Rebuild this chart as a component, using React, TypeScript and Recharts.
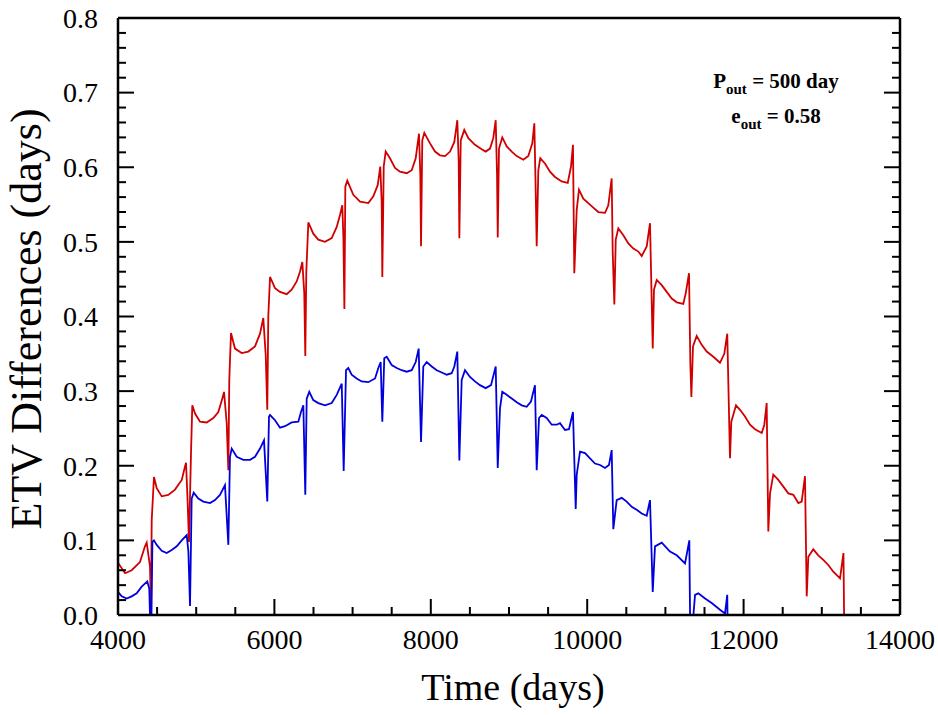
import React from "react";
import { LineChart, Line, XAxis, YAxis } from "recharts";

// tick values
const xMajorTicks = [4000, 6000, 8000, 10000, 12000, 14000];
const xMinorTicks = [4500, 5000, 5500, 6500, 7000, 7500, 8500, 9000, 9500, 10500, 11000, 11500, 12500, 13000, 13500];
const yMajorTicks = [0, 0.1, 0.2, 0.3, 0.4, 0.5, 0.6, 0.7, 0.8];
const yMinorTicks = [
  0.02, 0.04, 0.06, 0.08, 0.12, 0.14, 0.16, 0.18, 0.22, 0.24, 0.26, 0.28, 0.32, 0.34, 0.36, 0.38,
  0.42, 0.44, 0.46, 0.48, 0.52, 0.54, 0.56, 0.58, 0.62, 0.64, 0.66, 0.68, 0.72, 0.74, 0.76, 0.78,
];

// [time (days), ETV difference (days)]
const redSeries: [number, number][] = [
  [4000, 0.070], [4090, 0.056], [4175, 0.060], [4281, 0.071], [4345, 0.092], [4367, 0.097], [4409, 0.065], [4422, 0.007],
  [4431, 0.127], [4460, 0.185], [4495, 0.170], [4559, 0.159], [4643, 0.161], [4729, 0.168], [4815, 0.181], [4857, 0.199], [4870, 0.204], [4891, 0.150], [4908, 0.098],
  [4934, 0.219], [4950, 0.281], [4985, 0.270], [5049, 0.259], [5134, 0.258], [5219, 0.264], [5283, 0.272], [5334, 0.290], [5356, 0.299], [5390, 0.257], [5411, 0.194],
  [5423, 0.315], [5445, 0.378], [5496, 0.357], [5582, 0.351], [5666, 0.353], [5752, 0.360], [5816, 0.377], [5858, 0.398], [5889, 0.348], [5909, 0.275],
  [5922, 0.400], [5944, 0.453], [6008, 0.438], [6072, 0.433], [6157, 0.430], [6221, 0.436], [6285, 0.447], [6327, 0.460], [6357, 0.473], [6382, 0.431], [6395, 0.347],
  [6408, 0.460], [6434, 0.526], [6497, 0.511], [6561, 0.503], [6647, 0.500], [6733, 0.505], [6797, 0.520], [6839, 0.536], [6868, 0.549], [6882, 0.507], [6895, 0.410],
  [6907, 0.574], [6932, 0.582], [7009, 0.563], [7095, 0.554], [7201, 0.552], [7265, 0.561], [7321, 0.576], [7354, 0.601], [7372, 0.552], [7380, 0.453],
  [7398, 0.601], [7423, 0.621], [7478, 0.612], [7542, 0.599], [7606, 0.594], [7692, 0.592], [7756, 0.596], [7807, 0.612], [7849, 0.645], [7866, 0.590], [7875, 0.494],
  [7891, 0.636], [7917, 0.646], [7990, 0.632], [8054, 0.621], [8118, 0.616], [8182, 0.615], [8246, 0.621], [8301, 0.634], [8339, 0.663], [8357, 0.607], [8365, 0.505],
  [8383, 0.636], [8428, 0.650], [8480, 0.639], [8565, 0.630], [8651, 0.624], [8702, 0.621], [8757, 0.625], [8799, 0.639], [8830, 0.663], [8847, 0.590], [8856, 0.506],
  [8872, 0.625], [8914, 0.640], [8971, 0.628], [9035, 0.621], [9099, 0.615], [9183, 0.610], [9247, 0.615], [9298, 0.632], [9324, 0.659], [9342, 0.565], [9354, 0.494],
  [9375, 0.596], [9400, 0.612], [9460, 0.605], [9524, 0.594], [9588, 0.587], [9674, 0.581], [9751, 0.579], [9793, 0.601], [9818, 0.630], [9835, 0.458],
  [9866, 0.543], [9895, 0.570], [9950, 0.558], [10014, 0.552], [10078, 0.546], [10142, 0.540], [10228, 0.539], [10270, 0.549], [10313, 0.585], [10326, 0.487], [10347, 0.416],
  [10365, 0.503], [10398, 0.518], [10462, 0.509], [10526, 0.498], [10590, 0.491], [10654, 0.487], [10697, 0.481], [10761, 0.494], [10803, 0.525], [10825, 0.420], [10838, 0.357],
  [10854, 0.436], [10889, 0.449], [10953, 0.442], [11017, 0.433], [11081, 0.424], [11145, 0.419], [11229, 0.417], [11260, 0.431], [11302, 0.458], [11319, 0.337], [11332, 0.292],
  [11353, 0.360], [11400, 0.374], [11464, 0.362], [11528, 0.353], [11613, 0.346], [11698, 0.338], [11753, 0.350], [11791, 0.377], [11826, 0.210],
  [11843, 0.259], [11903, 0.281], [11954, 0.275], [12018, 0.266], [12082, 0.255], [12146, 0.249], [12232, 0.244], [12265, 0.255], [12295, 0.284], [12316, 0.112],
  [12338, 0.163], [12380, 0.188], [12444, 0.181], [12508, 0.172], [12572, 0.163], [12636, 0.161], [12700, 0.150], [12743, 0.152], [12785, 0.186], [12807, 0.025],
  [12828, 0.078], [12891, 0.088], [12955, 0.080], [13019, 0.074], [13083, 0.067], [13147, 0.058], [13233, 0.049], [13277, 0.083], [13290, -0.05],
];

const blueSeries: [number, number][] = [
  [4000, 0.031], [4047, 0.025], [4111, 0.022], [4175, 0.025], [4239, 0.029], [4303, 0.038], [4375, 0.045], [4400, 0.035], [4422, -0.05],
  [4440, 0.098], [4460, 0.100], [4495, 0.094], [4559, 0.086], [4623, 0.083], [4687, 0.087], [4751, 0.092], [4815, 0.100], [4879, 0.107], [4900, 0.085], [4921, 0.012],
  [4942, 0.156], [4968, 0.164], [5027, 0.156], [5091, 0.152], [5177, 0.150], [5240, 0.154], [5304, 0.161], [5368, 0.174], [5411, 0.094],
  [5432, 0.212], [5454, 0.223], [5518, 0.212], [5602, 0.208], [5688, 0.208], [5752, 0.212], [5816, 0.223], [5867, 0.234], [5909, 0.152],
  [5931, 0.266], [5944, 0.268], [6008, 0.261], [6072, 0.251], [6136, 0.253], [6221, 0.258], [6306, 0.259], [6340, 0.272], [6370, 0.281], [6395, 0.161],
  [6413, 0.290], [6446, 0.299], [6497, 0.288], [6561, 0.284], [6647, 0.281], [6733, 0.284], [6797, 0.295], [6861, 0.310], [6886, 0.193],
  [6916, 0.328], [6945, 0.331], [6988, 0.322], [7052, 0.317], [7116, 0.313], [7201, 0.312], [7287, 0.317], [7329, 0.331], [7359, 0.339], [7380, 0.259],
  [7405, 0.344], [7436, 0.346], [7500, 0.335], [7564, 0.331], [7628, 0.328], [7692, 0.326], [7756, 0.328], [7807, 0.339], [7845, 0.357], [7875, 0.232],
  [7904, 0.333], [7948, 0.339], [8012, 0.333], [8076, 0.328], [8140, 0.325], [8204, 0.322], [8267, 0.324], [8301, 0.333], [8339, 0.353], [8365, 0.207],
  [8395, 0.315], [8437, 0.328], [8501, 0.319], [8565, 0.313], [8629, 0.308], [8702, 0.304], [8770, 0.308], [8830, 0.333], [8856, 0.197],
  [8885, 0.277], [8914, 0.299], [8971, 0.295], [9035, 0.290], [9099, 0.285], [9163, 0.281], [9226, 0.279], [9281, 0.286], [9332, 0.308], [9354, 0.194],
  [9384, 0.264], [9418, 0.268], [9482, 0.264], [9546, 0.255], [9610, 0.255], [9652, 0.257], [9716, 0.248], [9767, 0.249], [9818, 0.272], [9853, 0.142],
  [9866, 0.188], [9908, 0.219], [9972, 0.217], [10036, 0.210], [10100, 0.203], [10164, 0.201], [10228, 0.197], [10279, 0.201], [10313, 0.221], [10334, 0.115],
  [10377, 0.154], [10441, 0.157], [10505, 0.152], [10569, 0.145], [10633, 0.141], [10697, 0.136], [10761, 0.133], [10803, 0.154], [10838, 0.031],
  [10867, 0.092], [10953, 0.097], [11059, 0.085], [11145, 0.080], [11251, 0.069], [11306, 0.100], [11320, -0.05],
  [11379, 0.027], [11421, 0.029], [11507, 0.022], [11592, 0.016], [11698, 0.007], [11762, 0.002], [11791, 0.027], [11800, -0.05],
];

const redData = redSeries.map(([t, v]) => ({ t, v }));
const blueData = blueSeries.map(([t, v]) => ({ t, v }));

const xTicks = [...xMajorTicks, ...xMinorTicks].sort((a, b) => a - b);
const yTicks = [...yMajorTicks, ...yMinorTicks].sort((a, b) => a - b);

const FONT = '"Liberation Serif", "Times New Roman", Times, serif';
const MAJOR = 16;
const MINOR = 8;

const isMajor = (list: number[], v: number) => list.some((m) => Math.abs(m - v) < 1e-9);

function LeftTick(props: any) {
  const { x, y, payload } = props;
  const major = isMajor(yMajorTicks, payload.value);
  return (
    <g>
      <line x1={x} x2={x + (major ? MAJOR : MINOR)} y1={y} y2={y} stroke="#000" strokeWidth={2} />
      {major && (
        <text
          x={x - 20}
          y={y}
          dy="0.35em"
          textAnchor="end"
          fill="#000"
          style={{ fontFamily: FONT, fontSize: 28 }}
        >
          {payload.value.toFixed(1)}
        </text>
      )}
    </g>
  );
}

function RightTick(props: any) {
  const { x, y, payload } = props;
  const major = isMajor(yMajorTicks, payload.value);
  return <line x1={x} x2={x - (major ? MAJOR : MINOR)} y1={y} y2={y} stroke="#000" strokeWidth={2} />;
}

function BottomTick(props: any) {
  const { x, y, payload } = props;
  const major = isMajor(xMajorTicks, payload.value);
  return (
    <g>
      <line x1={x} x2={x} y1={y} y2={y - (major ? MAJOR : MINOR)} stroke="#000" strokeWidth={2} />
      {major && (
        <text x={x} y={y + 34} textAnchor="middle" fill="#000" style={{ fontFamily: FONT, fontSize: 28 }}>
          {String(payload.value)}
        </text>
      )}
    </g>
  );
}

function TopTick(props: any) {
  const { x, y, payload } = props;
  const major = isMajor(xMajorTicks, payload.value);
  return <line x1={x} x2={x} y1={y} y2={y + (major ? MAJOR : MINOR)} stroke="#000" strokeWidth={2} />;
}

const frame = { stroke: "#000", strokeWidth: 2.5 };

export default function App() {
  return (
    <div style={{ position: "absolute", left: 0, top: 0, width: 938, height: 715, background: "#fff" }}>
      <LineChart width={938} height={715} margin={{ top: 16, right: 36, bottom: 40, left: 28 }}>
        <XAxis
          xAxisId="bottom"
          type="number"
          dataKey="t"
          domain={[4000, 14000]}
          allowDataOverflow
          ticks={xTicks}
          interval={0}
          tick={BottomTick}
          tickLine={false}
          tickSize={0}
          tickMargin={0}
          axisLine={frame}
          height={60}
        />
        <XAxis
          xAxisId="top"
          orientation="top"
          type="number"
          domain={[4000, 14000]}
          allowDataOverflow
          ticks={xTicks}
          interval={0}
          tick={TopTick}
          tickLine={false}
          tickSize={0}
          tickMargin={0}
          axisLine={frame}
          height={2}
        />
        <YAxis
          yAxisId="left"
          type="number"
          domain={[0, 0.8]}
          allowDataOverflow
          ticks={yTicks}
          interval={0}
          tick={LeftTick}
          tickLine={false}
          tickSize={0}
          tickMargin={0}
          axisLine={frame}
          width={90}
        />
        <YAxis
          yAxisId="right"
          orientation="right"
          type="number"
          domain={[0, 0.8]}
          allowDataOverflow
          ticks={yTicks}
          interval={0}
          tick={RightTick}
          tickLine={false}
          tickSize={0}
          tickMargin={0}
          axisLine={frame}
          width={2}
        />
        <Line
          xAxisId="bottom"
          yAxisId="left"
          data={redData}
          dataKey="v"
          type="linear"
          stroke="#d00000"
          strokeWidth={1.8}
          dot={false}
          isAnimationActive={false}
        />
        <Line
          xAxisId="bottom"
          yAxisId="left"
          data={blueData}
          dataKey="v"
          type="linear"
          stroke="#0000dd"
          strokeWidth={1.8}
          dot={false}
          isAnimationActive={false}
        />
      </LineChart>
      <svg
        width={938}
        height={715}
        style={{ position: "absolute", left: 0, top: 0, pointerEvents: "none", fontFamily: FONT }}
      >
        <text transform="translate(41,319) rotate(-90)" textAnchor="middle" fontSize={44} fill="#000">
          ETV Differences (days)
        </text>
        <text x={513} y={700} textAnchor="middle" fontSize={38} fill="#000">
          Time (days)
        </text>
        <text x={776} y={88} textAnchor="middle" fontSize={21} fontWeight="bold" fill="#000">
          P<tspan fontSize={15} dy={6}>out</tspan>
          <tspan dy={-6}> = 500 day</tspan>
        </text>
        <text x={776} y={123} textAnchor="middle" fontSize={21} fontWeight="bold" fill="#000">
          e<tspan fontSize={15} dy={6}>out</tspan>
          <tspan dy={-6}> = 0.58</tspan>
        </text>
      </svg>
    </div>
  );
}
